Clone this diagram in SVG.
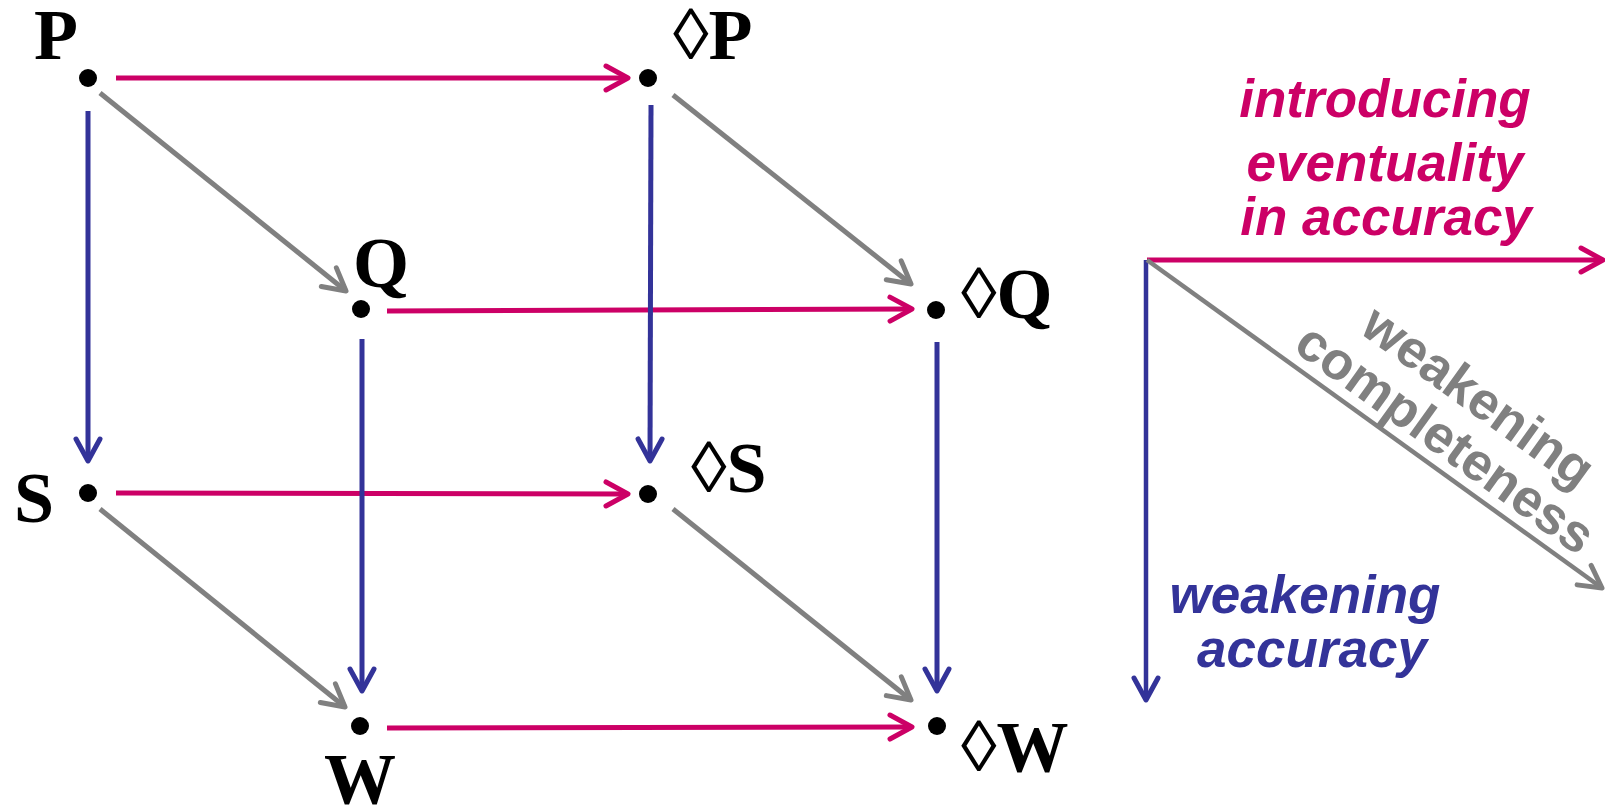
<svg xmlns="http://www.w3.org/2000/svg" width="1605" height="805" viewBox="0 0 1605 805">
<style>
.lbl{font-family:"Liberation Serif","Times New Roman",serif;font-weight:bold;font-size:72px;fill:#000}
.dia{font-weight:normal}
.dot{fill:#000}
.m{stroke:#CC0066;stroke-width:5;fill:none;marker-end:url(#am)}
.b{stroke:#333399;stroke-width:5;fill:none;marker-end:url(#ab)}
.g{stroke:#808080;stroke-width:5;fill:none;marker-end:url(#ag)}
.lm{stroke-width:5}
.lb{stroke-width:4.5}
.lg{stroke-width:4.5}
.leg{font-family:"Liberation Sans",Arial,sans-serif;font-weight:bold;font-style:italic;font-size:53px;text-anchor:middle}
.legg{font-family:"Liberation Sans",Arial,sans-serif;font-weight:bold;font-size:53px;text-anchor:middle;fill:#808080}
</style>
<defs>
<marker id="am" markerUnits="userSpaceOnUse" markerWidth="40" markerHeight="40" refX="0" refY="0" viewBox="-30 -20 40 40" orient="auto" overflow="visible"><path d="M-22,-12 L0,0 L-22,12" fill="none" stroke="#CC0066" stroke-width="5" stroke-linecap="round" stroke-linejoin="round"/></marker>
<marker id="ab" markerUnits="userSpaceOnUse" markerWidth="40" markerHeight="40" refX="0" refY="0" viewBox="-30 -20 40 40" orient="auto" overflow="visible"><path d="M-22,-12 L0,0 L-22,12" fill="none" stroke="#333399" stroke-width="5" stroke-linecap="round" stroke-linejoin="round"/></marker>
<marker id="ag" markerUnits="userSpaceOnUse" markerWidth="40" markerHeight="40" refX="0" refY="0" viewBox="-30 -20 40 40" orient="auto" overflow="visible"><path d="M-22,-12 L0,0 L-22,12" fill="none" stroke="#808080" stroke-width="5" stroke-linecap="round" stroke-linejoin="round"/></marker>
</defs>
<rect width="1605" height="805" fill="#fff"/>
<g id="connectors">
<line class="m" x1="116" y1="78" x2="628" y2="78"/>
<line class="m" x1="387" y1="311" x2="912" y2="309"/>
<line class="m" x1="116" y1="493" x2="628" y2="494"/>
<line class="m" x1="387" y1="728" x2="912" y2="727"/>
<line class="b" x1="88" y1="111" x2="88" y2="461"/>
<line class="b" x1="651" y1="105" x2="650" y2="461"/>
<line class="b" x1="362" y1="339" x2="362" y2="691"/>
<line class="b" x1="937" y1="342" x2="937" y2="691"/>
<line class="g" x1="100" y1="93" x2="346" y2="291"/>
<line class="g" x1="673" y1="95" x2="911" y2="284"/>
<line class="g" x1="100" y1="509" x2="345" y2="707"/>
<line class="g" x1="673" y1="509" x2="911" y2="700"/>
</g>
<g id="node-P"><circle class="dot" cx="88" cy="78" r="9"/><text class="lbl" x="34" y="59">P</text></g>
<g id="node-dP"><circle class="dot" cx="648" cy="78" r="9"/><text class="lbl" x="673" y="59"><tspan class="dia">◊</tspan>P</text></g>
<g id="node-Q"><circle class="dot" cx="361" cy="309" r="9"/><text class="lbl" x="353" y="287">Q</text></g>
<g id="node-dQ"><circle class="dot" cx="936" cy="310" r="9"/><text class="lbl" x="961" y="318"><tspan class="dia">◊</tspan>Q</text></g>
<g id="node-S"><circle class="dot" cx="88" cy="493" r="9"/><text class="lbl" x="14" y="522">S</text></g>
<g id="node-dS"><circle class="dot" cx="648" cy="494" r="9"/><text class="lbl" x="691" y="492"><tspan class="dia">◊</tspan>S</text></g>
<g id="node-W"><circle class="dot" cx="360" cy="726" r="9"/><text class="lbl" x="360" y="803" text-anchor="middle">W</text></g>
<g id="node-dW"><circle class="dot" cx="937" cy="726" r="9"/><text class="lbl" x="961" y="771"><tspan class="dia">◊</tspan>W</text></g>
<g id="legend">
<line class="m lm" x1="1147" y1="260" x2="1603" y2="260"/>
<line class="b lb" x1="1146" y1="260" x2="1146" y2="700"/>
<line class="g lg" x1="1147" y1="260" x2="1602" y2="588"/>
<text class="leg" fill="#CC0066" x="1385" y="117">introducing</text>
<text class="leg" fill="#CC0066" x="1385" y="181">eventuality</text>
<text class="leg" fill="#CC0066" x="1386" y="235">in accuracy</text>
<text class="leg" fill="#333399" x="1305" y="613">weakening</text>
<text class="leg" fill="#333399" x="1312" y="667">accuracy</text>
<text class="legg" transform="translate(1468,411) rotate(35.8)">weakening</text>
<text class="legg" transform="translate(1435,453) rotate(35.8)">completeness</text>
</g>
</svg>
